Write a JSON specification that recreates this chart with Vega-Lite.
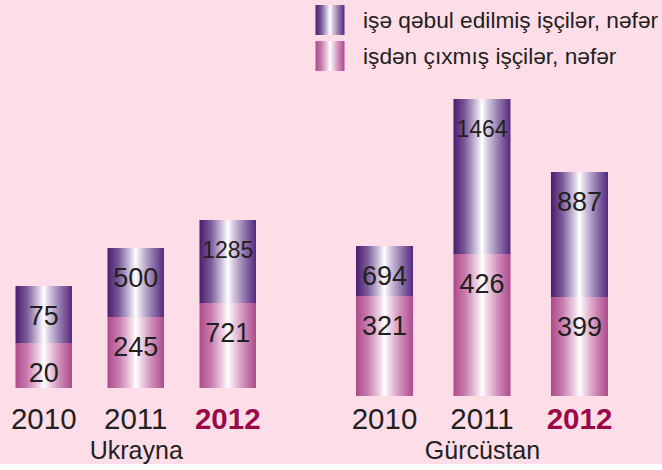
{
  "$schema": "https://vega.github.io/schema/vega-lite/v6.json",
  "usermeta": {"embedOptions": {"actions": false}},
  "background": "#fcdde8",
  "padding": {"left": 9.5, "top": 5, "right": 0, "bottom": 0},
  "config": {
    "view": {"stroke": null},
    "font": "Liberation Sans",
    "axis": {"domain": false, "ticks": false, "tickSize": 0, "grid": false, "labelAngle": 0, "labelFontSize": 29.5, "titleFontSize": 25, "titleFontWeight": "normal", "titleColor": "#231f20", "labelColor": "#231f20"}
  },
  "datasets": {
    "bars": [
      {"country": "Ukrayna", "year": "2010", "series": "işdən çıxmış işçilər, nəfər", "value": 20, "len": 45},
      {"country": "Ukrayna", "year": "2010", "series": "işə qəbul edilmiş işçilər, nəfər", "value": 75, "len": 57},
      {"country": "Ukrayna", "year": "2011", "series": "işdən çıxmış işçilər, nəfər", "value": 245, "len": 71},
      {"country": "Ukrayna", "year": "2011", "series": "işə qəbul edilmiş işçilər, nəfər", "value": 500, "len": 69},
      {"country": "Ukrayna", "year": "2012", "series": "işdən çıxmış işçilər, nəfər", "value": 721, "len": 85},
      {"country": "Ukrayna", "year": "2012", "series": "işə qəbul edilmiş işçilər, nəfər", "value": 1285, "len": 83},
      {"country": "Gürcüstan", "year": "2010", "series": "işdən çıxmış işçilər, nəfər", "value": 321, "len": 100},
      {"country": "Gürcüstan", "year": "2010", "series": "işə qəbul edilmiş işçilər, nəfər", "value": 694, "len": 50},
      {"country": "Gürcüstan", "year": "2011", "series": "işdən çıxmış işçilər, nəfər", "value": 426, "len": 142},
      {"country": "Gürcüstan", "year": "2011", "series": "işə qəbul edilmiş işçilər, nəfər", "value": 1464, "len": 155},
      {"country": "Gürcüstan", "year": "2012", "series": "işdən çıxmış işçilər, nəfər", "value": 399, "len": 99},
      {"country": "Gürcüstan", "year": "2012", "series": "işə qəbul edilmiş işçilər, nəfər", "value": 887, "len": 125}
    ],
    "legend": [
      {"series": "işə qəbul edilmiş işçilər, nəfər"},
      {"series": "işdən çıxmış işçilər, nəfər"}
    ]
  },
  "bounds": "flush",
  "spacing": 24,
  "vconcat": [
    {
      "width": 648,
      "height": 66,
      "data": {"name": "legend"},
      "encoding": {
        "x": {"datum": "swatch", "type": "nominal", "axis": null,
          "scale": {"paddingInner": 0.9063, "paddingOuter": 1, "align": 0.48465}},
        "y": {"field": "series", "type": "nominal", "axis": null,
          "scale": {"domain": ["işə qəbul edilmiş işçilər, nəfər", "işdən çıxmış işçilər, nəfər"], "paddingInner": 0.1667, "paddingOuter": 0}}
      },
      "layer": [
        {
          "transform": [{"filter": "datum.series === 'işə qəbul edilmiş işçilər, nəfər'"}],
          "mark": {"type": "bar", "strokeWidth": 0, "color": {"gradient": "linear", "x1": 0, "y1": 0, "x2": 1, "y2": 0, "stops": [
            {"offset": 0, "color": "#4a1d6e"}, {"offset": 0.2, "color": "#7a5a98"}, {"offset": 0.42, "color": "#d8cfe3"}, {"offset": 0.5, "color": "#ffffff"}, {"offset": 0.6, "color": "#d5c8e0"}, {"offset": 0.8, "color": "#8f75ab"}, {"offset": 1, "color": "#56287f"}]}}
        },
        {
          "transform": [{"filter": "datum.series === 'işdən çıxmış işçilər, nəfər'"}],
          "mark": {"type": "bar", "strokeWidth": 0, "color": {"gradient": "linear", "x1": 0, "y1": 0, "x2": 1, "y2": 0, "stops": [
            {"offset": 0, "color": "#ad4b8c"}, {"offset": 0.2, "color": "#c77aad"}, {"offset": 0.42, "color": "#efd5e5"}, {"offset": 0.5, "color": "#ffffff"}, {"offset": 0.6, "color": "#efd3e4"}, {"offset": 0.8, "color": "#cc86b5"}, {"offset": 1, "color": "#ad4b8c"}]}}
        },
        {
          "mark": {"type": "text", "align": "left", "baseline": "middle", "dx": 33, "dy": 1, "fontSize": 22.7, "color": "#231f20"},
          "encoding": {"text": {"field": "series", "type": "nominal"}}
        }
      ]
    },
    {
      "bounds": "flush",
      "spacing": 99.5,
      "hconcat": [
        {
          "width": 240.5,
          "height": 293,
          "data": {"name": "bars"},
          "transform": [
            {"filter": "datum.country === 'Ukrayna'"},
            {"stack": "len", "groupby": ["year"], "sort": [{"field": "series", "order": "ascending"}], "as": ["y0", "y1"]}
          ],
          "encoding": {
            "x": {"field": "year", "type": "nominal", "title": "Ukrayna",
              "scale": {"paddingInner": 0.386, "paddingOuter": 0},
              "axis": {"labelPadding": 17.7, "titlePadding": 4.3,
                "labelColor": {"condition": {"test": "datum.value === '2012'", "value": "#9b0a48"}, "value": "#231f20"},
                "labelFontWeight": {"condition": {"test": "datum.value === '2012'", "value": "bold"}, "value": "normal"}}},
            "y": {"field": "y1", "type": "quantitative", "scale": {"domain": [0, 293], "nice": false}, "axis": null},
            "y2": {"field": "y0"}
          },
          "layer": [
            {
              "transform": [{"filter": "datum.series === 'işə qəbul edilmiş işçilər, nəfər'"}],
              "mark": {"type": "bar", "strokeWidth": 0, "color": {"gradient": "linear", "x1": 0, "y1": 0, "x2": 1, "y2": 0, "stops": [
                {"offset": 0, "color": "#4a1d6e"}, {"offset": 0.2, "color": "#7a5a98"}, {"offset": 0.42, "color": "#d8cfe3"}, {"offset": 0.5, "color": "#ffffff"}, {"offset": 0.6, "color": "#d5c8e0"}, {"offset": 0.8, "color": "#8f75ab"}, {"offset": 1, "color": "#56287f"}]}}
            },
            {
              "transform": [{"filter": "datum.series === 'işdən çıxmış işçilər, nəfər'"}],
              "mark": {"type": "bar", "strokeWidth": 0, "color": {"gradient": "linear", "x1": 0, "y1": 0, "x2": 1, "y2": 0, "stops": [
                {"offset": 0, "color": "#ad4b8c"}, {"offset": 0.2, "color": "#c77aad"}, {"offset": 0.42, "color": "#efd5e5"}, {"offset": 0.5, "color": "#ffffff"}, {"offset": 0.6, "color": "#efd3e4"}, {"offset": 0.8, "color": "#cc86b5"}, {"offset": 1, "color": "#ad4b8c"}]}}
            },
            {
              "mark": {"type": "text", "dy": 31, "baseline": "middle", "align": "center", "color": "#231f20"},
              "encoding": {
                "y2": null,
                "text": {"field": "value", "type": "quantitative", "format": "d"},
                "size": {"condition": {"test": "datum.value >= 1000", "value": 23}, "value": 27}
              }
            }
          ]
        },
        {
          "width": 252,
          "height": 301,
          "data": {"name": "bars"},
          "transform": [
            {"filter": "datum.country === 'Gürcüstan'"},
            {"stack": "len", "groupby": ["year"], "sort": [{"field": "series", "order": "ascending"}], "as": ["y0", "y1"]}
          ],
          "encoding": {
            "x": {"field": "year", "type": "nominal", "title": "Gürcüstan",
              "scale": {"paddingInner": 0.415, "paddingOuter": 0},
              "axis": {"labelPadding": 9.7, "titlePadding": 4.3,
                "labelColor": {"condition": {"test": "datum.value === '2012'", "value": "#9b0a48"}, "value": "#231f20"},
                "labelFontWeight": {"condition": {"test": "datum.value === '2012'", "value": "bold"}, "value": "normal"}}},
            "y": {"field": "y1", "type": "quantitative", "scale": {"domain": [0, 301], "nice": false}, "axis": null},
            "y2": {"field": "y0"}
          },
          "layer": [
            {
              "transform": [{"filter": "datum.series === 'işə qəbul edilmiş işçilər, nəfər'"}],
              "mark": {"type": "bar", "strokeWidth": 0, "color": {"gradient": "linear", "x1": 0, "y1": 0, "x2": 1, "y2": 0, "stops": [
                {"offset": 0, "color": "#4a1d6e"}, {"offset": 0.2, "color": "#7a5a98"}, {"offset": 0.42, "color": "#d8cfe3"}, {"offset": 0.5, "color": "#ffffff"}, {"offset": 0.6, "color": "#d5c8e0"}, {"offset": 0.8, "color": "#8f75ab"}, {"offset": 1, "color": "#56287f"}]}}
            },
            {
              "transform": [{"filter": "datum.series === 'işdən çıxmış işçilər, nəfər'"}],
              "mark": {"type": "bar", "strokeWidth": 0, "color": {"gradient": "linear", "x1": 0, "y1": 0, "x2": 1, "y2": 0, "stops": [
                {"offset": 0, "color": "#ad4b8c"}, {"offset": 0.2, "color": "#c77aad"}, {"offset": 0.42, "color": "#efd5e5"}, {"offset": 0.5, "color": "#ffffff"}, {"offset": 0.6, "color": "#efd3e4"}, {"offset": 0.8, "color": "#cc86b5"}, {"offset": 1, "color": "#ad4b8c"}]}}
            },
            {
              "mark": {"type": "text", "dy": 31, "baseline": "middle", "align": "center", "color": "#231f20"},
              "encoding": {
                "y2": null,
                "text": {"field": "value", "type": "quantitative", "format": "d"},
                "size": {"condition": {"test": "datum.value >= 1000", "value": 23}, "value": 27}
              }
            }
          ]
        }
      ]
    }
  ]
}
